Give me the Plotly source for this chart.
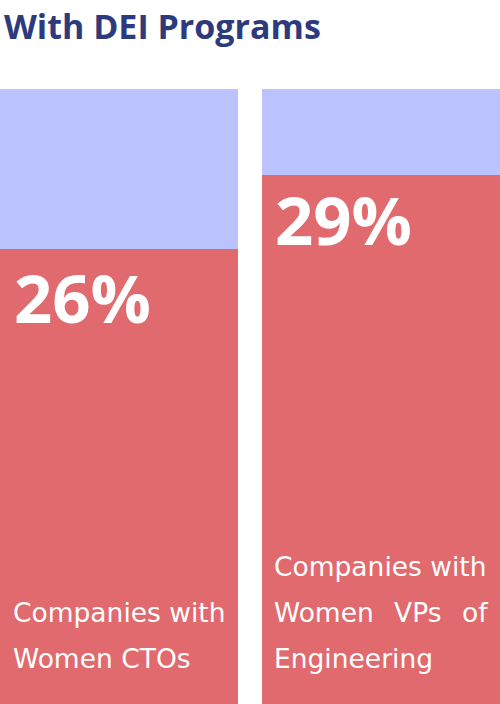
import plotly.graph_objects as go

categories = ["Companies with Women CTOs", "Companies with Women VPs of Engineering"]
red_values = [74, 86]
blue_values = [26, 14]
pct_labels = ["26%", "29%"]

RED = "#E06A6E"
BLUE = "#BBC3FF"
NAVY = "#2E3A7E"
FONT = "Open Sans"
LFONT = "DejaVu Sans"

H_TOP = 89
H = 704
PLOT_H = H - H_TOP

def py(p):
    return (H - p) / PLOT_H

xs = [0, 1]
fig = go.Figure()
fig.add_trace(go.Bar(x=xs, y=red_values, marker=dict(color=RED, line=dict(width=0)),
                     width=238 / 262, hoverinfo="skip"))
fig.add_trace(go.Bar(x=xs, y=blue_values, marker=dict(color=BLUE, line=dict(width=0)),
                     width=238 / 262, hoverinfo="skip"))

ann = []
ann.append(dict(text="<b>With DEI Programs</b>", xref="paper", yref="paper", x=2 / 500, y=py(26),
                xanchor="left", yanchor="middle", showarrow=False,
                font=dict(family=FONT, size=34, color=NAVY)))
ann.append(dict(text="<b>" + pct_labels[0] + "</b>", xref="paper", yref="paper", x=12 / 500, y=py(297),
                xanchor="left", yanchor="middle", showarrow=False,
                font=dict(family=FONT, size=67, color="white")))
ann.append(dict(text="<b>" + pct_labels[1] + "</b>", xref="paper", yref="paper", x=273 / 500, y=py(219),
                xanchor="left", yanchor="middle", showarrow=False,
                font=dict(family=FONT, size=67, color="white")))

def txt(s, xpx, ypx, anchor="left"):
    return dict(text=s, xref="paper", yref="paper", x=xpx / 500, y=py(ypx),
                xanchor=anchor, yanchor="middle", showarrow=False,
                font=dict(family=LFONT, size=26.5, color="white"))

ann.append(txt("Companies with", 11, 612))
ann.append(txt("Women CTOs", 11, 658))
ann.append(txt("Companies with", 272, 566))
ann.append(txt("Women", 272, 612))
ann.append(txt("VPs", 417, 612, "center"))
ann.append(txt("of", 490, 612, "right"))
ann.append(txt("Engineering", 272, 658))

fig.update_layout(
    width=500, height=704, barmode="stack", showlegend=False, bargap=0,
    margin=dict(l=0, r=0, t=H_TOP, b=0),
    paper_bgcolor="white", plot_bgcolor="white",
    xaxis=dict(range=[-119 / 262, 381 / 262], visible=False, fixedrange=True),
    yaxis=dict(range=[0, 100], visible=False, fixedrange=True),
    annotations=ann,
)
fig.write_html("out.html", config={"displayModeBar": False},
               post_script="document.body.style.margin='0';document.body.style.overflow='hidden';")
